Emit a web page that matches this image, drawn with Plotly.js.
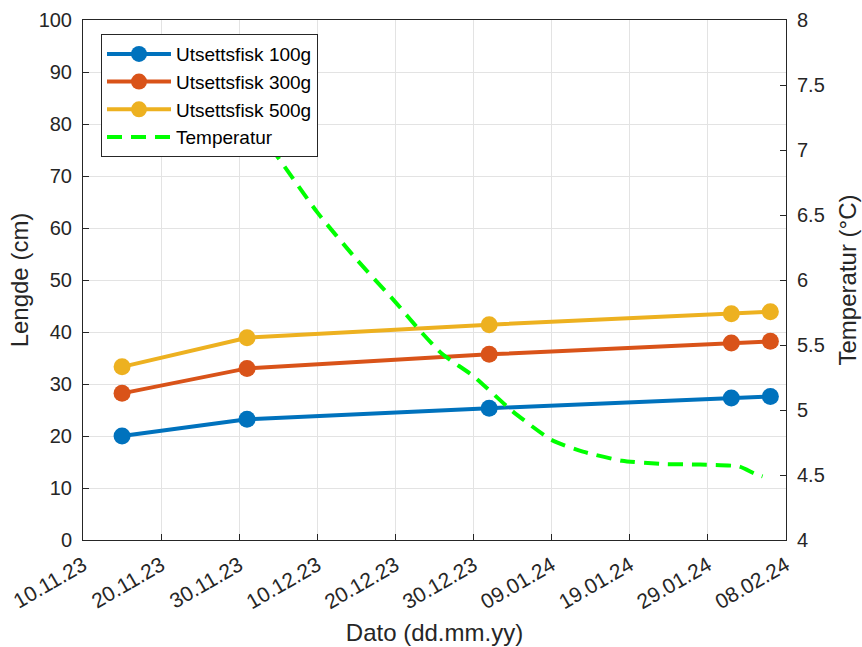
<!DOCTYPE html>
<html>
<head>
<meta charset="utf-8">
<script src="https://cdn.plot.ly/plotly-3.0.1.min.js"></script>
<style>html,body{margin:0;padding:0;background:#fff;}#chart{width:862px;height:647px;}</style>
</head>
<body>
<div id="chart"></div>
<script>
// Sampling dates for fish length
const fishDates = ["2023-11-15", "2023-12-01", "2024-01-01", "2024-02-01", "2024-02-06"];
const fish100 = [20.0, 23.2, 25.35, 27.3, 27.6];
const fish300 = [28.2, 33.0, 35.7, 37.9, 38.2];
const fish500 = [33.3, 38.9, 41.4, 43.5, 43.9];

// Temperature series
const tempDates = ["2023-12-04", "2023-12-05", "2023-12-10", "2023-12-15", "2023-12-20", "2023-12-23",
  "2023-12-26", "2023-12-30", "2024-01-04", "2024-01-09", "2024-01-13", "2024-01-18",
  "2024-01-23", "2024-01-28", "2024-02-02", "2024-02-04", "2024-02-05"];
const tempValues = [7.02, 6.94, 6.52, 6.16, 5.83, 5.62, 5.43, 5.26, 4.99, 4.77, 4.68, 4.61,
  4.585, 4.58, 4.565, 4.51, 4.49];

// Axis ticks
const xTickVals = ["2023-11-10", "2023-11-20", "2023-11-30", "2023-12-10", "2023-12-20",
  "2023-12-30", "2024-01-09", "2024-01-19", "2024-01-29", "2024-02-08"];
const xTickText = ["10.11.23", "20.11.23", "30.11.23", "10.12.23", "20.12.23",
  "30.12.23", "09.01.24", "19.01.24", "29.01.24", "08.02.24"];
const seriesNames = ["Utsettsfisk 100g", "Utsettsfisk 300g", "Utsettsfisk 500g", "Temperatur"];

const C = ["#0072BD", "#D95319", "#EDB120"];
const ink = "#262626";
const fishSets = [fish100, fish300, fish500];

const traces = fishSets.map((vals, i) => ({
  x: fishDates, y: vals, type: "scatter", mode: "lines+markers",
  name: seriesNames[i], yaxis: "y",
  line: {color: C[i], width: 4},
  marker: {color: C[i], size: 17}
}));
traces.push({
  x: tempDates, y: tempValues, type: "scatter", mode: "lines",
  name: seriesNames[3], yaxis: "y2",
  line: {color: "#00FF00", width: 4, dash: "15px,9px", shape: "spline", smoothing: 0.6}
});

const layout = {
  width: 862, height: 647,
  margin: {l: 83, r: 76, t: 20, b: 107},
  paper_bgcolor: "#fff", plot_bgcolor: "#fff",
  font: {family: "Liberation Sans, Arial, sans-serif", size: 20, color: ink},
  showlegend: true,
  legend: {
    x: 0.0256, y: 0.973, xanchor: "left", yanchor: "top",
    bgcolor: "#fff", bordercolor: ink, borderwidth: 1,
    font: {size: 19, color: "#000"},
    itemwidth: 64, tracegroupgap: 0
  },
  xaxis: {
    type: "date", range: ["2023-11-10", "2024-02-08"],
    tickvals: xTickVals, ticktext: xTickText, tickangle: -30,
    ticks: "inside", ticklen: 6, tickcolor: ink,
    showline: true, linecolor: ink, linewidth: 1, mirror: true,
    showgrid: true, gridcolor: "#e3e3e3", zeroline: false,
    tickfont: {size: 21}, ticklabelstandoff: 4,
    title: {text: "Dato (dd.mm.yy)", font: {size: 24}, standoff: 12}
  },
  yaxis: {
    range: [0, 100], dtick: 10, tick0: 0,
    ticks: "inside", ticklen: 6, tickcolor: ink,
    showline: true, linecolor: ink, linewidth: 1,
    showgrid: true, gridcolor: "#e3e3e3", zeroline: false,
    tickfont: {size: 20}, ticklabelstandoff: 6,
    title: {text: "Lengde (cm)", font: {size: 24}, standoff: 3}
  },
  yaxis2: {
    range: [4, 8], dtick: 0.5, tick0: 4, overlaying: "y", side: "right",
    ticks: "inside", ticklen: 6, tickcolor: ink,
    showline: true, linecolor: ink, linewidth: 1,
    showgrid: false, zeroline: false,
    tickfont: {size: 20}, ticklabelstandoff: 6,
    title: {text: "Temperatur (°C)", font: {size: 24}, standoff: 15}
  }
};

Plotly.newPlot("chart", traces, layout, {displayModeBar: false, staticPlot: true});
</script>
</body>
</html>
